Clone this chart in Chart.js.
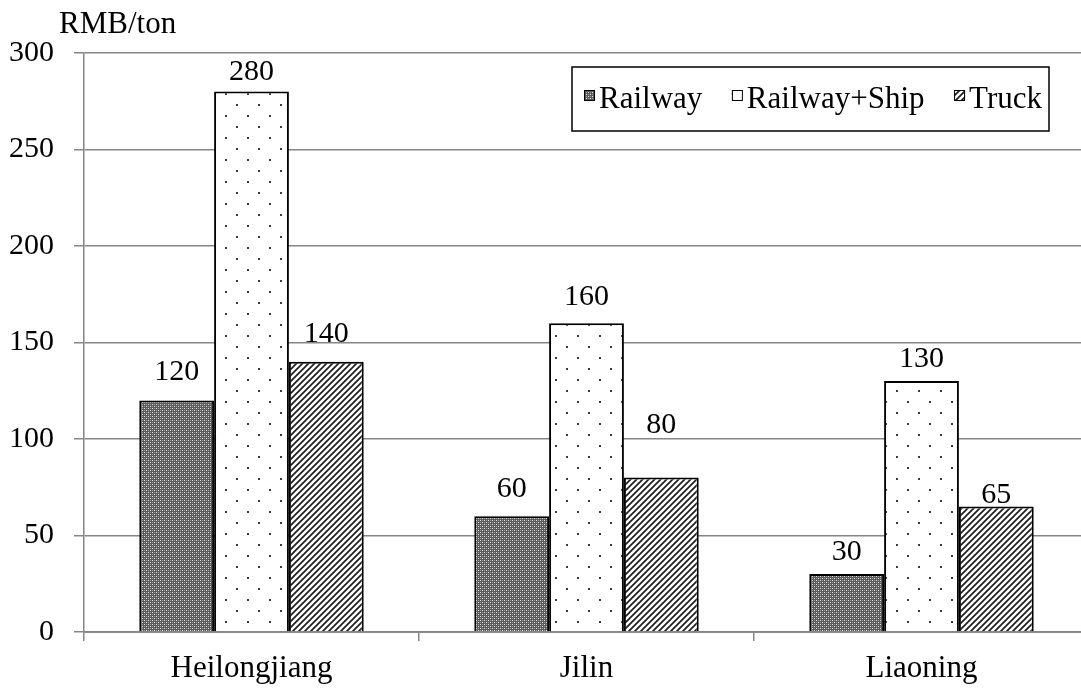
<!DOCTYPE html>
<html>
<head>
<meta charset="utf-8">
<script src="https://cdn.jsdelivr.net/npm/chart.js@4"></script>
<style>
  html, body { margin: 0; padding: 0; background: #fff; overflow: hidden; }
  #wrap { width: 1100px; height: 688px; }
</style>
</head>
<body>
<div id="wrap"><canvas id="c" width="1100" height="688"></canvas></div>
<script>
// Transport cost per ton, by province and mode
const provinces = ['Heilongjiang', 'Jilin', 'Liaoning'];
const railway = [120, 60, 30];
const railwayShip = [280, 160, 130];
const truck = [140, 80, 65];
const modeNames = ['Railway', 'Railway+Ship', 'Truck'];
const yTicks = [0, 50, 100, 150, 200, 250, 300];
const unitLabel = 'RMB/ton';

const SERIF = "'Liberation Serif', 'Times New Roman', serif";
const AXIS_GRAY = '#868686';

// ---- fill patterns ----
function makePattern(w, h, paint) {
  const c = document.createElement('canvas');
  c.width = w; c.height = h;
  const g = c.getContext('2d');
  paint(g, w, h);
  return g.createPattern(c, 'repeat');
}
const checkerFill = makePattern(4, 4, (g) => {
  g.fillStyle = '#5a5a5a'; g.fillRect(0, 0, 4, 4);
  g.fillStyle = '#e2e2e2';
  g.fillRect(0, 0, 1, 1); g.fillRect(2, 2, 1, 1);
  g.fillStyle = '#a0a0a0';
  g.fillRect(2, 0, 1, 1); g.fillRect(0, 2, 1, 1);
});
const dotFill = makePattern(22, 22, (g) => {
  g.fillStyle = '#fff'; g.fillRect(0, 0, 22, 22);
  g.fillStyle = '#3a3a3a';
  g.fillRect(5, 5, 2, 2); g.fillRect(16, 16, 2, 2);
});
const stripeFill = makePattern(6, 6, (g) => {
  g.fillStyle = '#fff'; g.fillRect(0, 0, 6, 6);
  g.strokeStyle = '#1e1e1e'; g.lineWidth = 1.7;
  g.beginPath();
  g.moveTo(0, 6); g.lineTo(6, 0);
  g.moveTo(-1, 1); g.lineTo(1, -1);
  g.moveTo(5, 7); g.lineTo(7, 5);
  g.stroke();
});
const fills = [checkerFill, dotFill, stripeFill];

// ---- value labels above bars ----
const valueLabels = {
  id: 'valueLabels',
  afterDatasetsDraw(chart, args, opts) {
    const ctx = chart.ctx;
    ctx.save();
    ctx.font = opts.font;
    ctx.fillStyle = '#000';
    ctx.textAlign = 'center';
    ctx.textBaseline = 'alphabetic';
    chart.data.datasets.forEach((ds, i) => {
      chart.getDatasetMeta(i).data.forEach((bar, j) => {
        const lift = opts.lift[i][j];
        ctx.fillText(String(ds.data[j]), bar.x, bar.y - lift + 10);
      });
    });
    ctx.restore();
  }
};

// ---- baseline redrawn over the bar bottoms ----
const baseline = {
  id: 'baseline',
  afterDatasetsDraw(chart) {
    const { ctx, chartArea } = chart;
    const y = chart.scales.y.getPixelForValue(0);
    ctx.save();
    ctx.strokeStyle = AXIS_GRAY;
    ctx.lineWidth = 1.5;
    ctx.beginPath();
    ctx.moveTo(chartArea.left, y);
    ctx.lineTo(chartArea.right, y);
    ctx.stroke();
    ctx.restore();
  }
};

// ---- unit caption and boxed legend ----
const annotations = {
  id: 'annotations',
  afterDraw(chart, args, opts) {
    const { ctx, chartArea } = chart;
    ctx.save();
    ctx.font = opts.font;
    ctx.fillStyle = '#000';
    ctx.textBaseline = 'alphabetic';
    ctx.textAlign = 'left';
    ctx.fillText(unitLabel, chartArea.left - 25, chartArea.top - 20);

    // legend box
    const box = { l: 572, t: 67, r: 1049, b: 131 };
    ctx.fillStyle = '#fff';
    ctx.fillRect(box.l, box.t, box.r - box.l, box.b - box.t);
    ctx.strokeStyle = '#000';
    ctx.lineWidth = 1.5;
    ctx.strokeRect(box.l, box.t, box.r - box.l, box.b - box.t);

    const icon = 11, iconGap = 4, padL = 12, padR = 7;
    const widths = chart.data.datasets.map(ds => ctx.measureText(ds.label).width);
    const used = widths.reduce((a, w) => a + w + icon + iconGap, 0);
    const gap = (box.r - box.l - padL - padR - used) / (widths.length - 1);
    let x = box.l + padL;
    const baseY = 108;
    chart.data.datasets.forEach((ds, i) => {
      ctx.fillStyle = ds.backgroundColor;
      ctx.fillRect(x, baseY - 18, icon, icon);
      ctx.lineWidth = 1;
      ctx.strokeStyle = '#000';
      ctx.strokeRect(x + 0.5, baseY - 17.5, icon - 1, icon - 1);
      x += icon + iconGap;
      ctx.fillStyle = '#000';
      ctx.fillText(ds.label, x, baseY);
      x += widths[i] + gap;
    });
    ctx.restore();
  }
};

const seriesValues = [railway, railwayShip, truck];

new Chart(document.getElementById('c'), {
  type: 'bar',
  data: {
    labels: provinces,
    datasets: seriesValues.map((vals, i) => ({
      label: modeNames[i],
      data: vals,
      backgroundColor: fills[i],
      borderColor: '#000',
      borderWidth: 2,
      categoryPercentage: 0.67,
      barPercentage: 1.0
    }))
  },
  options: {
    responsive: false,
    animation: false,
    devicePixelRatio: 1,
    layout: { padding: { left: 0, top: 53, right: 11, bottom: 0 } },
    plugins: {
      legend: { display: false },
      tooltip: { enabled: false },
      valueLabels: {
        font: '30px ' + SERIF,
        lift: [[30, 29, 24], [22, 28, 24], [30, 55, 14]]
      },
      annotations: { font: '31px ' + SERIF }
    },
    scales: {
      x: {
        offset: true,
        grid: { offset: true, drawOnChartArea: false, color: AXIS_GRAY, lineWidth: 1.5, tickLength: 9 },
        border: { color: AXIS_GRAY, width: 1.5 },
        ticks: { color: '#000', font: { family: SERIF, size: 31 }, padding: 9, maxRotation: 0 },
        afterFit(s) { s.height = 56; }
      },
      y: {
        min: yTicks[0],
        max: yTicks[yTicks.length - 1],
        afterBuildTicks(s) { s.ticks = yTicks.map(v => ({ value: v })); },
        grid: { color: AXIS_GRAY, lineWidth: 1.5, tickLength: 10 },
        border: { color: AXIS_GRAY, width: 1.5 },
        ticks: { color: '#000', font: { family: SERIF, size: 30 }, padding: 20 },
        afterFit(s) { s.width = 84; }
      }
    }
  },
  plugins: [valueLabels, baseline, annotations]
});
</script>
</body>
</html>
